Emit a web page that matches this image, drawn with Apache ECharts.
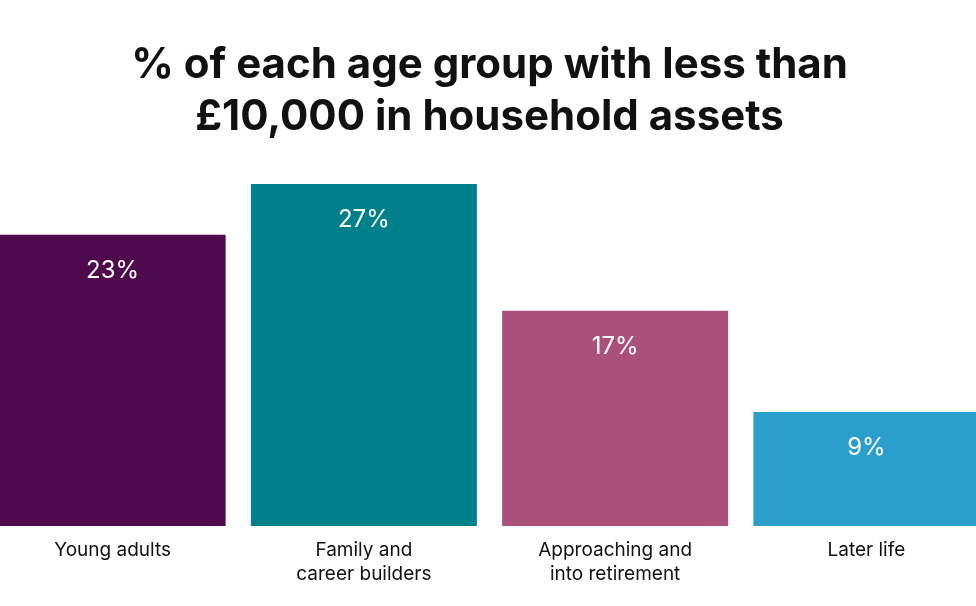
<!DOCTYPE html>
<html>
<head>
<meta charset="utf-8">
<script src="https://cdn.jsdelivr.net/npm/echarts@6/dist/echarts.min.js"></script>
<style>
html,body{margin:0;padding:0;background:#fff;overflow:hidden;width:976px;height:606px;}
#chart{width:1005px;height:606px;margin-left:-13px;}
</style>
</head>
<body>
<div id="chart"></div>
<script>
const titleText = "% of each age group with less than\n£10,000 in household assets";
const categories = ["Young adults", "Family and\ncareer builders", "Approaching and\ninto retirement", "Later life"];
const values = [23, 27, 17, 9];
const colors = ["#4E0A4C", "#00808A", "#AB507B", "#2B9FCB"];

const chart = echarts.init(document.getElementById('chart'));
chart.setOption({
  backgroundColor: '#ffffff',
  animation: false,
  title: {
    text: titleText,
    left: 'center',
    top: 34,
    padding: [5, 21, 5, 5],
    textStyle: {
      fontFamily: 'Inter',
      fontWeight: 700,
      fontSize: 42,
      lineHeight: 52,
      color: '#111111',
      letterSpacing: -1
    }
  },
  grid: { left: 0, right: 0, top: 146, bottom: 80, containLabel: false },
  xAxis: {
    type: 'category',
    data: categories,
    axisLine: { show: false },
    axisTick: { show: false },
    axisLabel: {
      margin: 12,
      fontFamily: 'Inter',
      fontSize: 19,
      lineHeight: 24,
      color: '#111111',
      interval: 0
    }
  },
  yAxis: {
    type: 'value',
    min: 0,
    max: 30,
    show: false,
    splitLine: { show: false }
  },
  series: [{
    type: 'bar',
    barWidth: 226,
    data: values.map((v, i) => ({ value: v, itemStyle: { color: colors[i] } })),
    label: {
      show: true,
      position: 'insideTop',
      distance: 24,
      formatter: '{c}%',
      fontFamily: 'Inter',
      fontSize: 24,
      color: '#ffffff'
    }
  }]
});
</script>
</body>
</html>
